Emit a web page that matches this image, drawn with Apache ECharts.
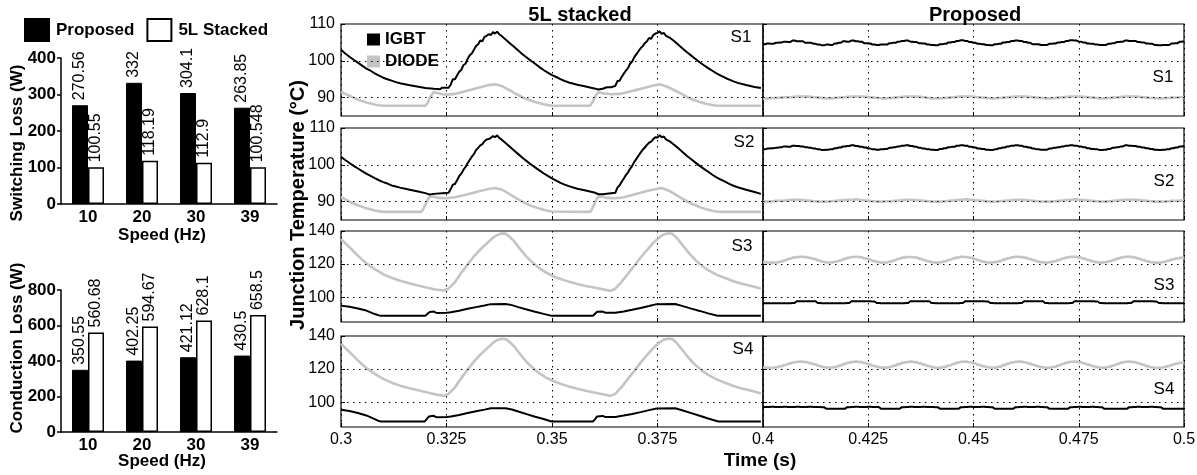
<!DOCTYPE html>
<html><head><meta charset="utf-8">
<script src="https://cdn.jsdelivr.net/npm/echarts@6/dist/echarts.min.js"></script>
<style>html,body{margin:0;padding:0;background:#fff}#c{width:1197px;height:475px}</style>
</head><body><div id="c"></div>
<script>
// ---------- bar chart data ----------
const speeds = ['10', '20', '30', '39'];
const switchProposed = [270.56, 332, 304.1, 263.85];
const switch5L = [100.55, 118.19, 112.9, 100.548];
const condProposed = [350.55, 402.25, 421.12, 430.5];
const cond5L = [560.68, 594.67, 628.1, 658.5];

// ---------- temperature ticks ----------
const xTicksLeft = [0.3, 0.325, 0.35, 0.375, 0.4];
const xTicksRight = [0.4, 0.425, 0.45, 0.475, 0.5];
const yTicksTop = [90, 100, 110];
const yTicksBottom = [100, 120, 140];

// ---------- 5L stacked (0.3 - 0.4 s), [time, temp] ----------
const s1IgbtA = [[0.300,103.0],[0.301,102.0],[0.302,101.1],[0.303,100.3],[0.304,99.5],[0.305,98.7],[0.306,97.9],[0.307,97.3],[0.308,96.6],[0.309,96.0],[0.310,95.4],[0.311,95.0],[0.312,94.6],[0.313,94.2],[0.314,93.9],[0.316,93.4],[0.318,93.0],[0.320,92.6],[0.322,92.4],[0.3235,92.3],[0.324,92.7],[0.3255,92.7],[0.326,93.5],[0.3265,95.0],[0.327,95.0],[0.3275,96.0],[0.328,97.0],[0.3285,97.5],[0.329,98.8],[0.3295,99.2],[0.330,100.5],[0.3305,101.5],[0.331,102.0],[0.3315,103.0],[0.332,104.0],[0.3325,104.5],[0.333,105.5],[0.3335,105.3],[0.334,106.5],[0.3345,106.8],[0.335,107.2],[0.3355,107.0],[0.336,107.8],[0.3365,107.4],[0.337,107.9],[0.3375,107.2],[0.338,106.8],[0.339,105.8],[0.340,104.8],[0.341,103.8],[0.342,102.8],[0.343,101.8],[0.344,100.9],[0.345,100.0],[0.346,99.2],[0.347,98.3],[0.348,97.5],[0.349,96.8],[0.350,96.1],[0.351,95.6],[0.352,95.0],[0.353,94.5],[0.354,94.1],[0.356,93.5],[0.358,93.0],[0.360,92.5],[0.361,92.2],[0.362,92.4],[0.363,92.8],[0.364,92.8],[0.365,93.2],[0.3655,94.5],[0.366,94.6],[0.3665,95.6],[0.367,96.5],[0.3675,97.3],[0.368,98.0],[0.3685,99.2],[0.369,99.8],[0.3695,101.0],[0.370,101.8],[0.3705,102.6],[0.371,103.4],[0.3715,104.0],[0.372,104.8],[0.3725,105.3],[0.373,106.2],[0.3735,106.0],[0.374,107.0],[0.3745,107.4],[0.375,107.6],[0.3755,108.0],[0.376,107.3],[0.3765,107.6],[0.377,106.8],[0.378,106.2],[0.379,105.3],[0.380,104.3],[0.381,103.3],[0.382,102.3],[0.383,101.4],[0.384,100.5],[0.385,99.6],[0.386,98.8],[0.387,98.0],[0.388,97.3],[0.389,96.6],[0.390,96.0],[0.391,95.4],[0.392,94.9],[0.393,94.4],[0.394,94.0],[0.396,93.4],[0.398,92.9],[0.3995,92.6]];
const s1DiodeA = [[0.300,91.6],[0.301,91.0],[0.302,90.5],[0.303,90.0],[0.304,89.5],[0.305,89.1],[0.306,88.7],[0.307,88.4],[0.308,88.1],[0.309,87.9],[0.310,87.8],[0.320,87.8],[0.3205,88.5],[0.321,89.8],[0.3215,90.8],[0.322,91.5],[0.323,91.2],[0.324,90.9],[0.325,90.8],[0.327,91.0],[0.329,91.6],[0.331,92.2],[0.333,92.8],[0.335,93.4],[0.3365,93.6],[0.338,93.2],[0.339,92.6],[0.340,92.0],[0.341,91.3],[0.342,90.7],[0.343,90.1],[0.344,89.6],[0.345,89.2],[0.346,88.8],[0.347,88.5],[0.348,88.2],[0.349,88.0],[0.350,87.8],[0.359,87.8],[0.3595,88.6],[0.360,89.8],[0.3605,90.8],[0.361,91.5],[0.362,91.2],[0.364,90.9],[0.366,91.0],[0.368,91.5],[0.370,92.1],[0.372,92.7],[0.374,93.3],[0.3755,93.6],[0.377,93.1],[0.378,92.6],[0.379,92.0],[0.380,91.4],[0.381,90.8],[0.382,90.2],[0.383,89.6],[0.384,89.2],[0.385,88.8],[0.386,88.5],[0.387,88.2],[0.388,88.0],[0.389,87.8],[0.3995,87.8]];
const s2IgbtA = [[0.300,102.2],[0.301,101.3],[0.302,100.5],[0.303,99.7],[0.304,99.0],[0.305,98.3],[0.306,97.6],[0.307,97.0],[0.308,96.4],[0.309,95.8],[0.310,95.3],[0.311,94.9],[0.312,94.4],[0.313,94.1],[0.314,93.8],[0.316,93.3],[0.318,92.8],[0.320,92.3],[0.321,91.9],[0.322,92.1],[0.324,92.3],[0.3255,92.4],[0.326,93.4],[0.3265,94.6],[0.327,94.8],[0.3275,95.8],[0.328,96.9],[0.3285,97.6],[0.329,98.6],[0.3295,99.4],[0.330,100.4],[0.3305,101.3],[0.331,102.2],[0.3315,102.9],[0.332,104.0],[0.3325,104.6],[0.333,105.3],[0.3335,105.6],[0.334,106.4],[0.3345,106.9],[0.335,107.0],[0.3355,107.3],[0.336,107.8],[0.3365,107.5],[0.337,108.0],[0.3375,107.3],[0.338,106.9],[0.339,105.9],[0.340,104.9],[0.341,103.9],[0.342,102.9],[0.343,101.9],[0.344,101.0],[0.345,100.1],[0.346,99.3],[0.347,98.5],[0.348,97.7],[0.349,97.0],[0.350,96.3],[0.351,95.7],[0.352,95.1],[0.353,94.6],[0.354,94.2],[0.356,93.5],[0.358,93.0],[0.360,92.5],[0.361,92.0],[0.362,92.0],[0.364,92.3],[0.365,92.4],[0.3655,93.8],[0.366,94.4],[0.3665,95.4],[0.367,96.2],[0.3675,97.2],[0.368,97.9],[0.3685,98.9],[0.369,99.7],[0.3695,100.8],[0.370,101.6],[0.3705,102.5],[0.371,103.3],[0.3715,104.1],[0.372,104.7],[0.3725,105.4],[0.373,106.0],[0.3735,106.3],[0.374,107.0],[0.3745,107.5],[0.375,107.4],[0.3755,108.0],[0.376,107.5],[0.3765,107.7],[0.377,106.9],[0.378,106.3],[0.379,105.4],[0.380,104.4],[0.381,103.4],[0.382,102.4],[0.383,101.5],[0.384,100.6],[0.385,99.7],[0.386,98.9],[0.387,98.1],[0.388,97.3],[0.389,96.6],[0.390,96.0],[0.391,95.4],[0.392,94.8],[0.393,94.3],[0.394,93.9],[0.396,93.2],[0.398,92.6],[0.3995,92.1]];
const s2DiodeA = [[0.300,91.3],[0.301,90.6],[0.302,90.0],[0.303,89.5],[0.304,89.0],[0.305,88.6],[0.306,88.2],[0.307,87.9],[0.308,87.6],[0.309,87.4],[0.310,87.2],[0.319,87.2],[0.3195,88.0],[0.320,89.2],[0.3205,90.4],[0.321,91.3],[0.322,91.4],[0.323,91.0],[0.325,90.9],[0.327,91.2],[0.329,91.7],[0.331,92.3],[0.333,92.9],[0.335,93.4],[0.3365,93.7],[0.338,93.3],[0.339,92.7],[0.340,92.0],[0.341,91.3],[0.342,90.6],[0.343,90.0],[0.344,89.4],[0.345,88.9],[0.346,88.5],[0.347,88.1],[0.348,87.8],[0.349,87.5],[0.350,87.3],[0.359,87.2],[0.3595,88.0],[0.360,89.3],[0.3605,90.5],[0.361,91.3],[0.362,91.3],[0.363,91.0],[0.365,90.9],[0.367,91.2],[0.369,91.8],[0.371,92.4],[0.373,93.0],[0.375,93.5],[0.376,93.7],[0.377,93.3],[0.378,92.8],[0.379,92.1],[0.380,91.4],[0.381,90.7],[0.382,90.1],[0.383,89.5],[0.384,89.0],[0.385,88.5],[0.386,88.1],[0.387,87.8],[0.388,87.5],[0.389,87.3],[0.390,87.2],[0.3995,87.2]];
const s3IgbtA = [[0.300,94.9],[0.302,94.2],[0.304,93.2],[0.306,91.9],[0.308,89.8],[0.309,89.0],[0.3095,88.8],[0.3200,88.8],[0.3205,90.0],[0.321,91.0],[0.322,91.3],[0.3225,90.6],[0.323,90.4],[0.325,90.6],[0.326,90.9],[0.328,91.8],[0.330,93.0],[0.332,94.0],[0.334,95.0],[0.3355,95.8],[0.339,95.9],[0.3405,95.2],[0.342,94.0],[0.344,92.6],[0.346,91.2],[0.348,89.9],[0.3495,89.0],[0.350,88.8],[0.3597,88.8],[0.3602,90.0],[0.3607,91.2],[0.362,91.3],[0.3627,90.6],[0.363,90.4],[0.365,90.6],[0.367,91.4],[0.369,92.4],[0.371,93.5],[0.373,94.7],[0.3748,95.8],[0.3792,95.9],[0.381,94.6],[0.383,93.1],[0.385,91.7],[0.387,90.2],[0.389,88.9],[0.3895,88.8],[0.3995,88.8]];
const s3DiodeA = [[0.300,135.1],[0.301,132.6],[0.302,130.2],[0.303,127.6],[0.304,125.1],[0.305,122.7],[0.306,120.5],[0.307,118.6],[0.308,117.0],[0.309,115.5],[0.310,113.9],[0.312,111.7],[0.314,109.9],[0.316,108.5],[0.318,107.2],[0.320,106.0],[0.322,104.8],[0.3243,104.0],[0.3255,105.2],[0.327,109.0],[0.3283,114.0],[0.330,119.8],[0.3314,124.3],[0.333,128.8],[0.3346,132.6],[0.336,135.9],[0.337,137.6],[0.338,138.5],[0.339,138.4],[0.340,136.4],[0.341,133.9],[0.3425,128.9],[0.344,124.4],[0.3456,120.4],[0.347,117.6],[0.3485,115.0],[0.350,113.0],[0.352,111.0],[0.354,109.4],[0.356,108.0],[0.358,106.8],[0.360,105.8],[0.362,104.8],[0.3638,103.8],[0.365,105.1],[0.3665,109.3],[0.368,114.2],[0.3695,119.0],[0.371,124.0],[0.3725,128.5],[0.374,132.8],[0.3755,136.3],[0.3765,137.9],[0.3775,138.6],[0.3785,138.3],[0.3795,136.0],[0.381,131.3],[0.3825,126.5],[0.384,122.4],[0.3855,119.0],[0.387,116.4],[0.389,113.6],[0.391,111.6],[0.393,109.6],[0.395,108.1],[0.397,106.9],[0.3995,105.2]];
const s4IgbtA = [[0.300,95.4],[0.302,94.7],[0.304,93.5],[0.306,92.0],[0.308,89.8],[0.309,88.6],[0.3095,88.3],[0.3198,88.3],[0.3203,89.8],[0.3208,91.3],[0.322,91.8],[0.3225,91.0],[0.323,90.9],[0.325,91.1],[0.326,91.3],[0.328,92.3],[0.330,93.4],[0.332,94.5],[0.334,95.5],[0.3355,96.3],[0.339,96.3],[0.3405,95.6],[0.342,94.4],[0.344,92.8],[0.346,91.2],[0.348,89.8],[0.3495,88.6],[0.350,88.3],[0.3597,88.3],[0.3602,89.8],[0.3607,91.4],[0.362,91.7],[0.3627,91.0],[0.363,90.9],[0.365,91.1],[0.367,91.9],[0.369,92.9],[0.371,94.0],[0.373,95.2],[0.3748,96.2],[0.3792,96.3],[0.381,95.0],[0.383,93.4],[0.385,91.8],[0.387,90.1],[0.389,88.6],[0.3895,88.3],[0.3995,88.3]];
const s4DiodeA = [[0.300,135.4],[0.301,132.8],[0.302,130.3],[0.303,127.8],[0.304,125.3],[0.305,122.9],[0.306,120.7],[0.307,118.8],[0.308,117.1],[0.309,115.6],[0.310,114.1],[0.312,111.8],[0.314,110.0],[0.316,108.6],[0.318,107.3],[0.320,106.1],[0.322,104.9],[0.3243,103.8],[0.3255,105.0],[0.327,108.9],[0.3283,113.8],[0.330,119.6],[0.3314,124.2],[0.333,128.7],[0.3346,132.5],[0.336,135.8],[0.337,137.5],[0.338,138.3],[0.339,138.2],[0.340,136.3],[0.341,133.8],[0.3425,128.8],[0.344,124.3],[0.3456,120.3],[0.347,117.5],[0.3485,115.0],[0.350,113.1],[0.352,111.1],[0.354,109.5],[0.356,108.1],[0.358,106.9],[0.360,105.8],[0.362,104.8],[0.3638,103.8],[0.365,105.0],[0.3665,109.2],[0.368,114.1],[0.3695,118.9],[0.371,123.9],[0.3725,128.4],[0.374,132.7],[0.3755,136.2],[0.3765,137.8],[0.3775,138.4],[0.3785,138.2],[0.3795,135.9],[0.381,131.2],[0.3825,126.4],[0.384,122.4],[0.3855,119.1],[0.387,116.5],[0.389,113.8],[0.391,111.7],[0.393,109.8],[0.395,108.3],[0.397,107.0],[0.3995,105.3]];

// ---------- Proposed (0.4 - 0.5 s), one value per ms ----------
const s1IgbtB = [104.5,104.7,104.6,104.9,105.0,105.2,105.1,105.5,105.3,105.3,
104.9,104.9,104.6,104.4,104.2,104.4,104.3,104.7,104.9,105.3,
105.2,105.5,105.3,105.2,104.8,104.7,104.4,104.3,104.4,104.4,
104.8,104.9,105.2,105.4,105.5,105.2,105.1,104.8,104.7,104.4,
104.3,104.2,104.5,104.6,105.0,105.1,105.4,105.6,105.4,105.1,
104.9,104.6,104.5,104.3,104.2,104.5,104.6,105.0,105.1,105.4,
105.5,105.4,105.1,104.9,104.5,104.5,104.3,104.3,104.6,104.7,
105.0,105.1,105.4,105.6,105.5,105.2,105.0,104.7,104.6,104.4,
104.3,104.3,104.6,104.8,105.1,105.2,105.5,105.4,105.4,105.1,
105.0,104.7,104.6,104.3,104.2,104.3,104.3,104.7,104.8,105.2,105.3];
const s1DiodeB = [89.8,89.8,89.9,89.9,90.0,90.1,90.1,90.2,90.3,90.3,
90.3,90.2,90.1,90.0,89.9,89.8,89.8,89.9,90.0,90.1,
90.2,90.3,90.3,90.3,90.2,90.1,90.0,89.9,89.8,89.8,
89.9,90.0,90.1,90.2,90.3,90.3,90.3,90.2,90.1,89.9,
89.8,89.8,89.8,89.9,90.0,90.1,90.2,90.3,90.3,90.3,
90.2,90.1,90.0,89.9,89.8,89.8,89.9,90.0,90.1,90.2,
90.3,90.3,90.3,90.2,90.1,90.0,89.9,89.8,89.8,89.9,
90.0,90.1,90.2,90.3,90.3,90.3,90.2,90.1,90.0,89.9,
89.8,89.8,89.9,90.0,90.1,90.2,90.3,90.3,90.3,90.2,
90.1,90.0,89.9,89.8,89.8,89.8,89.9,90.0,90.0,90.1,90.1];
const s2IgbtB = [104.2,104.4,104.5,104.6,104.8,105.0,104.9,105.2,105.1,105.0,
104.8,104.6,104.4,104.2,104.0,104.1,104.2,104.5,104.7,105.0,
105.1,105.3,105.1,104.9,104.7,104.4,104.2,104.1,104.2,104.3,
104.6,104.8,105.0,105.2,105.3,105.1,104.9,104.6,104.4,104.2,
104.1,104.0,104.3,104.5,104.8,104.9,105.2,105.3,105.2,104.9,
104.7,104.4,104.3,104.1,104.0,104.2,104.5,104.7,105.0,105.2,
105.3,105.2,104.9,104.7,104.4,104.2,104.1,104.1,104.4,104.6,
104.8,105.0,105.2,105.3,105.2,105.0,104.8,104.5,104.3,104.2,
104.0,104.1,104.3,104.6,104.8,105.0,105.3,105.2,105.1,104.9,
104.7,104.5,104.3,104.1,104.0,104.1,104.2,104.5,104.7,105.0,105.1];
const s2DiodeB = [90.0,90.0,90.1,90.2,90.2,90.3,90.4,90.5,90.5,90.4,
90.3,90.2,90.1,90.0,90.0,90.0,90.1,90.2,90.3,90.4,
90.5,90.5,90.6,90.4,90.3,90.2,90.1,90.0,90.0,90.1,
90.1,90.2,90.3,90.4,90.5,90.5,90.4,90.3,90.2,90.1,
90.0,90.0,90.0,90.1,90.2,90.3,90.4,90.5,90.6,90.5,
90.4,90.3,90.2,90.1,90.0,90.0,90.1,90.2,90.3,90.4,
90.5,90.5,90.4,90.3,90.2,90.1,90.0,90.0,90.0,90.1,
90.2,90.3,90.4,90.5,90.6,90.5,90.4,90.3,90.2,90.1,
90.0,90.0,90.1,90.2,90.3,90.4,90.5,90.5,90.5,90.4,
90.3,90.2,90.1,90.0,90.0,90.0,90.1,90.2,90.2,90.3,90.3];
const s3IgbtB = [96.4,96.4,96.3,96.3,96.4,96.4,96.4,96.5,97.5,97.6,
97.6,97.5,97.5,96.5,96.4,96.3,96.3,96.3,96.4,96.4,
96.5,97.5,97.6,97.6,97.5,97.5,97.4,96.5,96.4,96.3,
96.3,96.3,96.4,96.4,96.5,97.5,97.6,97.6,97.5,97.5,
96.5,96.4,96.3,96.3,96.3,96.4,96.4,96.5,97.5,97.6,
97.6,97.5,97.5,97.4,96.5,96.4,96.3,96.3,96.3,96.4,
96.4,96.5,97.5,97.6,97.6,97.5,97.5,96.5,96.4,96.3,
96.3,96.3,96.4,96.5,97.5,97.6,97.6,97.5,97.5,97.4,
96.5,96.4,96.3,96.3,96.3,96.4,96.4,96.5,97.5,97.6,
97.6,97.5,97.5,97.4,96.5,96.4,96.3,96.3,96.3,96.4,96.4];
const s3DiodeB = [121.2,121.0,120.9,121.0,121.5,122.3,123.2,123.9,124.3,124.4,
124.2,123.7,123.0,122.2,121.4,121.0,121.0,121.4,122.1,123.0,
123.8,124.3,124.4,124.1,123.5,122.7,121.9,121.2,120.9,121.0,
121.5,122.3,123.2,123.9,124.3,124.3,124.0,123.3,122.5,121.7,
121.1,120.9,121.1,121.7,122.5,123.4,124.0,124.4,124.3,123.8,
123.1,122.3,121.5,121.0,120.9,121.2,121.8,122.7,123.5,124.1,
124.4,124.3,123.9,123.2,122.4,121.6,121.1,120.9,121.1,121.7,
122.5,123.4,124.0,124.4,124.4,124.0,123.3,122.5,121.7,121.1,
120.9,121.1,121.6,122.4,123.3,124.0,124.4,124.4,124.0,123.3,
122.5,121.7,121.1,120.9,120.9,121.3,122.0,122.8,123.4,123.8,123.9];
const s4IgbtB = [97.1,97.1,97.2,97.1,97.1,97.2,97.1,97.1,97.2,97.1,
97.1,97.2,97.1,97.1,97.0,96.1,96.0,96.0,96.1,96.1,
97.0,97.1,97.2,97.1,97.1,97.2,97.1,97.1,96.1,96.0,
96.0,96.1,96.1,97.0,97.1,97.2,97.1,97.1,97.2,97.1,
97.1,97.0,96.1,96.0,96.0,96.1,96.1,97.0,97.1,97.2,
97.1,97.1,97.2,97.1,97.0,96.1,96.0,96.0,96.1,96.1,
97.0,97.1,97.2,97.1,97.1,97.2,97.1,97.0,96.1,96.0,
96.0,96.1,96.1,97.0,97.1,97.2,97.1,97.1,97.2,97.1,
97.0,96.1,96.0,96.0,96.1,96.1,96.1,97.0,97.1,97.2,
97.1,97.1,97.2,97.1,97.0,96.1,96.0,96.0,96.1,96.1,96.1];
const s4DiodeB = [121.0,120.8,120.8,121.1,121.7,122.5,123.3,124.0,124.4,124.5,
124.2,123.6,122.9,122.0,121.3,120.9,120.9,121.3,122.1,123.0,
123.8,124.3,124.5,124.2,123.6,122.8,122.0,121.3,120.9,120.9,
121.3,122.1,123.0,123.8,124.3,124.5,124.2,123.5,122.7,121.9,
121.2,120.8,120.9,121.4,122.2,123.1,123.9,124.4,124.5,124.1,
123.4,122.6,121.8,121.2,120.8,120.9,121.5,122.4,123.3,124.0,
124.4,124.5,124.1,123.4,122.6,121.8,121.1,120.8,120.9,121.4,
122.2,123.1,123.9,124.4,124.5,124.2,123.5,122.7,121.9,121.2,
120.8,120.9,121.4,122.2,123.1,123.9,124.4,124.5,124.2,123.5,
122.7,121.8,121.1,120.8,120.8,121.1,121.8,122.6,123.3,123.8,124.0];

// ---------- build ----------
const FONT = 'Liberation Sans';
const GREY = '#c4c4c4';
const sampleTimes = s1IgbtB.map((_, i) => Math.round((0.4 + i * 0.001) * 10000) / 10000);
const pairB = arr => arr.map((v, i) => [sampleTimes[i], v]);

const rowTops = [24, 128, 231, 336];
const rowHeights = [92, 92, 91, 91];
const rowRanges = [[85, 110], [85, 110], [85, 140], [85, 140]];
const rowTicks = [yTicksTop, yTicksTop, yTicksBottom, yTicksBottom];

const grids = [
  { left: 61, top: 58, width: 216, height: 146, outerBoundsMode: 'none' },
  { left: 61, top: 290, width: 216, height: 142, outerBoundsMode: 'none' }
];
const xAxes = [];
const yAxes = [];
const series = [];

// bar axes
[[400, 100], [800, 200]].forEach((cfg, gi) => {
  xAxes.push({
    type: 'category', gridIndex: gi, data: speeds,
    axisLine: { lineStyle: { color: '#000', width: 1.5 } },
    axisTick: { show: false },
    axisLabel: { color: '#000', fontFamily: FONT, fontWeight: 'bold', fontSize: 17, margin: 5 }
  });
  yAxes.push({
    type: 'value', gridIndex: gi, min: 0, max: cfg[0], interval: cfg[1],
    axisLine: { show: true, lineStyle: { color: '#000', width: 1.5 } },
    axisTick: { show: true, length: 4, lineStyle: { color: '#000', width: 1.5 } },
    axisLabel: { color: '#000', fontFamily: FONT, fontWeight: 'bold', fontSize: 17, margin: 5 },
    splitLine: { show: false }
  });
});

const barLabel = {
  show: true, position: 'top', rotate: 90, align: 'left', verticalAlign: 'middle',
  distance: 5, color: '#000', fontFamily: FONT, fontSize: 16
};
function barPair(gi, propVals, fiveVals) {
  series.push({
    type: 'bar', name: 'Proposed', xAxisIndex: gi, yAxisIndex: gi, data: propVals,
    barWidth: 16, barGap: '0%',
    itemStyle: { color: '#000', borderColor: '#000', borderWidth: 1 }, label: barLabel
  });
  series.push({
    type: 'bar', name: '5L Stacked', xAxisIndex: gi, yAxisIndex: gi, data: fiveVals,
    barWidth: 16, barGap: '0%',
    itemStyle: { color: '#fff', borderColor: '#000', borderWidth: 1.5 }, label: barLabel
  });
}
barPair(0, switchProposed, switch5L);
barPair(1, condProposed, cond5L);

// temperature grids
const fmtT = v => String(Math.round(v * 1000) / 1000);
const dotted = [1.5, 4.5];
const igbtA = [s1IgbtA, s2IgbtA, s3IgbtA, s4IgbtA];
const diodeA = [s1DiodeA, s2DiodeA, s3DiodeA, s4DiodeA];
const igbtB = [s1IgbtB, s2IgbtB, s3IgbtB, s4IgbtB];
const diodeB = [s1DiodeB, s2DiodeB, s3DiodeB, s4DiodeB];

[0, 1].forEach(half => {
  for (let r = 0; r < 4; r++) {
    const gi = grids.length;
    grids.push({
      left: half === 0 ? 341 : 763, width: half === 0 ? 422 : 421,
      top: rowTops[r], height: rowHeights[r], show: true,
      borderColor: '#000', borderWidth: 1.2, backgroundColor: 'transparent',
      outerBoundsMode: 'none'
    });
    const ticks = half === 0 ? xTicksLeft : xTicksRight;
    xAxes.push({
      type: 'value', gridIndex: gi, min: ticks[0], max: ticks[ticks.length - 1], interval: 0.025,
      axisLine: { show: false },
      axisTick: { show: true, inside: true, length: 4, lineStyle: { color: '#000' } },
      axisLabel: {
        show: r === 3, formatter: fmtT, color: '#000', fontFamily: FONT, fontSize: 16, margin: 5,
        showMaxLabel: half === 1, showMinLabel: true
      },
      splitLine: { show: true, lineStyle: { color: '#000', type: dotted, width: 1 } }
    });
    yAxes.push({
      type: 'value', gridIndex: gi, min: rowRanges[r][0], max: rowRanges[r][1],
      axisLine: { show: false },
      axisTick: { show: true, inside: true, length: 4, customValues: rowTicks[r], lineStyle: { color: '#000' } },
      axisLabel: {
        show: half === 0, customValues: rowTicks[r], color: '#000', fontFamily: FONT, fontSize: 16, margin: 6
      },
      splitLine: { show: false }
    });
    const gridLines = rowTicks[r].slice(0, 2).map(v => ({ yAxis: v }));
    series.push({
      type: 'line', name: 'DIODE', xAxisIndex: gi, yAxisIndex: gi,
      data: half === 0 ? diodeA[r] : pairB(diodeB[r]),
      step: half === 0 ? false : 'middle',
      showSymbol: false, symbol: 'none',
      lineStyle: { color: GREY, width: 2.6 }, itemStyle: { color: GREY },
      markLine: {
        silent: true, symbol: 'none', label: { show: false },
        lineStyle: { color: '#000', type: dotted, width: 1 },
        emphasis: { disabled: true }, data: gridLines
      }
    });
    series.push({
      type: 'line', name: 'IGBT', xAxisIndex: gi, yAxisIndex: gi,
      data: half === 0 ? igbtA[r] : pairB(igbtB[r]),
      step: half === 0 ? false : 'middle',
      showSymbol: false, symbol: 'none',
      lineStyle: { color: '#000', width: 2 }, itemStyle: { color: '#000' }
    });
  }
});

const txt = (text, x, y, size, bold, rot) => ({
  type: 'text', x: x, y: y, rotation: rot || 0, silent: true,
  style: {
    text: text, fill: '#000', textAlign: 'center', textVerticalAlign: 'middle',
    font: (bold ? 'bold ' : '') + size + 'px "' + FONT + '"'
  }
});

const option = {
  animation: false,
  backgroundColor: '#fff',
  grid: grids, xAxis: xAxes, yAxis: yAxes, series: series,
  legend: [
    {
      data: [{ name: 'Proposed', icon: 'rect' }, { name: '5L Stacked', icon: 'rect' }],
      left: 19, top: 13, itemWidth: 24, itemHeight: 22, itemGap: 12, selectedMode: false,
      textStyle: { color: '#000', fontFamily: FONT, fontWeight: 'bold', fontSize: 17, padding: [0, 0, 0, 2] }
    },
    {
      data: [{ name: 'IGBT', icon: 'rect' }, { name: 'DIODE', icon: 'rect' }],
      orient: 'vertical', left: 362, top: 26, itemWidth: 13, itemHeight: 12, itemGap: 5,
      selectedMode: false,
      textStyle: { color: '#000', fontFamily: FONT, fontWeight: 'bold', fontSize: 17 }
    }
  ],
  graphic: [
    txt('5L stacked', 580, 15, 20, true),
    txt('Proposed', 975, 15, 20, true),
    txt('Junction Temperature (°C)', 298, 205, 20, true, Math.PI / 2),
    txt('Time (s)', 760, 461, 19, true),
    txt('Speed (Hz)', 162, 235, 17, true),
    txt('Speed (Hz)', 162, 461, 17, true),
    txt('Switching Loss (W)', 17, 143, 17, true, Math.PI / 2),
    txt('Conduction Loss (W)', 17, 348, 17, true, Math.PI / 2),
    txt('S1', 741, 37, 17, false), txt('S2', 744, 142, 17, false),
    txt('S3', 742, 246, 17, false), txt('S4', 743, 349, 17, false),
    txt('S1', 1163, 77, 17, false), txt('S2', 1164, 181, 17, false),
    txt('S3', 1164, 285, 17, false), txt('S4', 1164, 389, 17, false)
  ]
};

const chart = echarts.init(document.getElementById('c'), null, { renderer: 'canvas' });
chart.setOption(option);
</script>
</body></html>
